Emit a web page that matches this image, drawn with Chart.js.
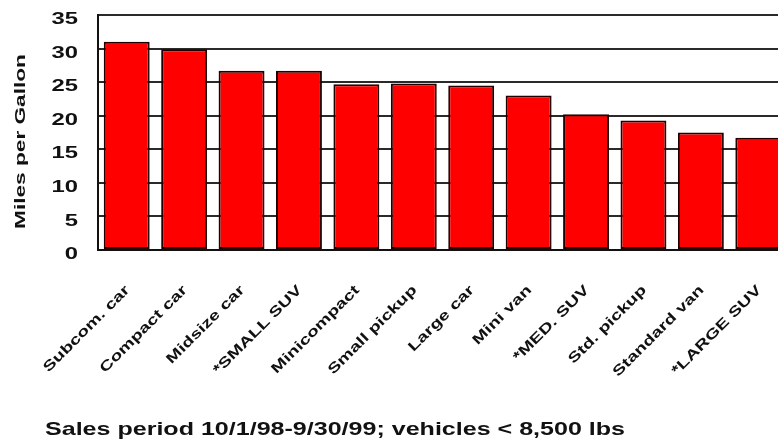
<!DOCTYPE html>
<html>
<head>
<meta charset="utf-8">
<script src="https://cdn.jsdelivr.net/npm/chart.js@4/dist/chart.umd.min.js"></script>
<style>
  html, body { margin: 0; padding: 0; background: #fff; overflow: hidden; }
  #mpgChart { display: block; }
</style>
</head>
<body>
<canvas id="mpgChart" width="790" height="446"></canvas>
<script>
// vehicle classes, sorted by fuel economy
const categories = [
  'Subcom. car', 'Compact car', 'Midsize car', '*SMALL SUV', 'Minicompact',
  'Small pickup', 'Large car', 'Mini van', '*MED. SUV', 'Std. pickup',
  'Standard van', '*LARGE SUV'
];
const mpg = [31.0, 29.9, 26.7, 26.7, 24.7, 24.8, 24.5, 23.0, 20.2, 19.3, 17.5, 16.7];
const yTicks = [0, 5, 10, 15, 20, 25, 30, 35];
const yTitle = 'Miles per Gallon';
const caption = 'Sales period 10/1/98-9/30/99; vehicles < 8,500 lbs';

const FONT = '"Liberation Sans", Arial, sans-serif';

// old-style wide lettering: every label is stretched along its baseline
function wideText(ctx, text, x, y, angle, sx, align, baseline) {
  ctx.save();
  ctx.translate(x, y);
  ctx.rotate(angle);
  ctx.scale(sx, 1);
  ctx.textAlign = align;
  ctx.textBaseline = baseline;
  ctx.fillText(text, 0, 0);
  ctx.restore();
}

const labelsPlugin = {
  id: 'wideLabels',
  afterDraw(chart) {
    const ctx = chart.ctx;
    const xs = chart.scales.x;
    const ys = chart.scales.y;
    ctx.save();
    ctx.fillStyle = '#111';

    ctx.font = 'bold 17px ' + FONT;
    yTicks.forEach(v => {
      wideText(ctx, String(v), 78, ys.getPixelForValue(v) + 4.5, 0, 1.4, 'right', 'middle');
    });

    ctx.font = 'bold 14px ' + FONT;
    categories.forEach((c, i) => {
      wideText(ctx, c, xs.getPixelForValue(i) + 1, 288, -Math.PI / 4, 1.38, 'right', 'middle');
    });

    ctx.font = 'bold 15.5px ' + FONT;
    wideText(ctx, yTitle, 24.5, 141.5, -Math.PI / 2, 1.46, 'center', 'alphabetic');

    ctx.font = 'bold 19px ' + FONT;
    const sx = 580 / ctx.measureText(caption).width;
    wideText(ctx, caption, 45, 435, 0, sx, 'left', 'alphabetic');

    ctx.restore();
  }
};

new Chart(document.getElementById('mpgChart'), {
  type: 'bar',
  data: {
    labels: categories,
    datasets: [{
      data: mpg,
      backgroundColor: '#ff0000',
      borderColor: '#220000',
      borderWidth: 2,
      borderSkipped: false,
      barPercentage: 0.8,
      categoryPercentage: 1.0
    }]
  },
  options: {
    responsive: false,
    devicePixelRatio: 1,
    animation: false,
    layout: { padding: { top: 15, right: 3, bottom: 0, left: 0 } },
    plugins: {
      legend: { display: false },
      tooltip: { enabled: false }
    },
    scales: {
      x: {
        grid: { display: false, drawTicks: false },
        border: { display: true, color: '#111', width: 2 },
        ticks: { display: false },
        afterFit(scale) { scale.height = 196; }
      },
      y: {
        min: 0,
        max: 35,
        ticks: { display: false, stepSize: 5 },
        grid: { color: '#2a2a2a', lineWidth: 2, drawTicks: false },
        border: { display: true, color: '#111', width: 2 },
        afterFit(scale) { scale.width = 98; }
      }
    }
  },
  plugins: [labelsPlugin]
});
</script>
</body>
</html>
